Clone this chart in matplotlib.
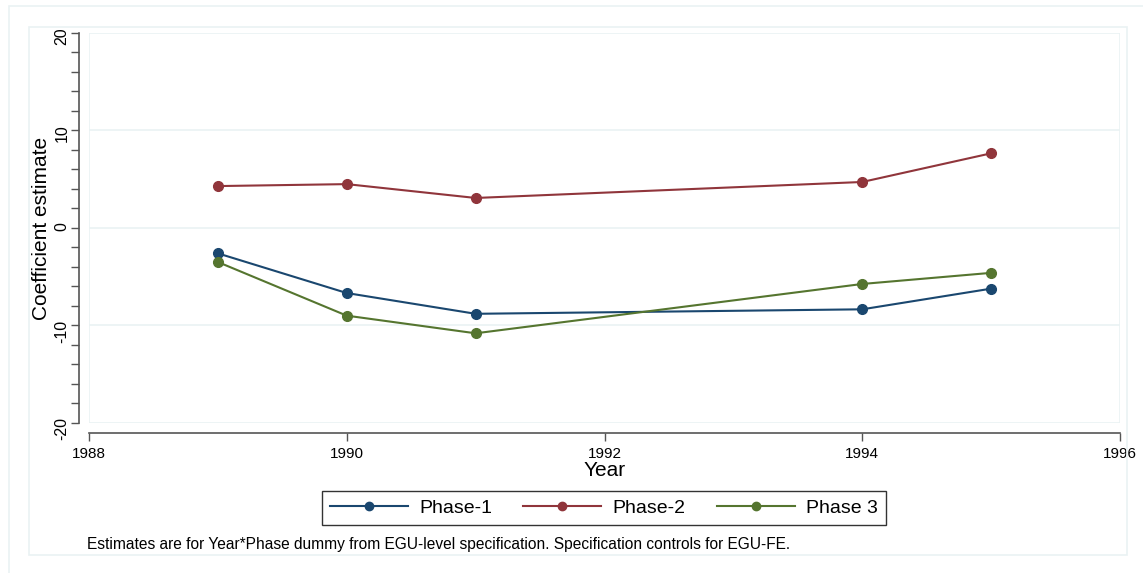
import matplotlib.pyplot as plt
from matplotlib.patches import Rectangle

years = [1989, 1990, 1991, 1994, 1995]
phase1 = [-2.6, -6.67, -8.8, -8.34, -6.22]
phase2 = [4.3, 4.5, 3.08, 4.72, 7.66]
phase3 = [-3.49, -8.99, -10.8, -5.74, -4.6]

series_names = ['Phase-1', 'Phase-2', 'Phase 3']
series_colors = ['#1a476f', '#90353b', '#55752f']
x_ticks = [1988, 1990, 1992, 1994, 1996]
y_ticks = [-20, -10, 0, 10, 20]
note = 'Estimates are for Year*Phase dummy from EGU-level specification. Specification controls for EGU-FE.'

plt.rcParams['font.family'] = ['Liberation Sans', 'DejaVu Sans']
plt.rcParams['axes.unicode_minus'] = False

W, H = 1143, 573
fig = plt.figure(figsize=(W / 100, H / 100), dpi=100)


def px_rect(x0, y0, x1, y1, color):
    # rectangle given in pixel coords from the top-left corner
    r = Rectangle((x0 / W, 1 - y1 / H), (x1 - x0) / W, (y1 - y0) / H,
                  transform=fig.transFigure, fill=False, edgecolor=color, lw=1.2)
    fig.add_artist(r)


frame_col = '#eaf2f3'
px_rect(9, 6, 1160, 600, frame_col)
px_rect(29, 27, 1127, 555, frame_col)

ax = fig.add_axes([89 / W, 1 - 423 / H, (1120 - 89) / W, (423 - 33) / H])

for vals, name, col in zip([phase1, phase2, phase3], series_names, series_colors):
    ax.plot(years, vals, color=col, lw=1.5, marker='o', markersize=7, label=name)

ax.set_xlim(1988, 1996)
ax.set_ylim(-20, 20)
ax.set_xticks(x_ticks)
ax.set_yticks(y_ticks)
ax.set_yticks(range(-20, 21, 2), minor=True)
ax.tick_params(axis='y', labelsize=11.5, length=6, width=1, color='#555555', pad=1,
               labelrotation=90)
ax.tick_params(axis='y', which='minor', length=6, width=1, color='#555555')
ax.tick_params(axis='x', labelsize=11, length=6, width=1, color='#555555', pad=4)
for lbl in ax.get_yticklabels():
    lbl.set_va('center')

for s in ['top', 'right']:
    ax.spines[s].set_visible(False)
for s in ['left', 'bottom']:
    ax.spines[s].set_position(('outward', 7))
    ax.spines[s].set_color('#555555')
    ax.spines[s].set_linewidth(1.2)

for v in [-10, 0, 10]:
    ax.axhline(v, color=frame_col, lw=1.2, zorder=0)
ax.add_patch(Rectangle((0, 0), 1, 1, transform=ax.transAxes, fill=False,
                       edgecolor=frame_col, lw=1.2, zorder=0))

ax.set_ylabel('Coefficient estimate', fontsize=15)
ax.yaxis.set_label_coords((51 - 89) / 1031, 0.5)
ax.set_xlabel('Year', fontsize=15, labelpad=0)

leg = fig.legend(loc='center', bbox_to_anchor=(604 / W, 1 - 508 / H), ncol=3,
                 frameon=True, fancybox=False, fontsize=14, handlelength=4,
                 columnspacing=1.6, borderpad=0.4, handletextpad=0.6)
leg.get_frame().set_edgecolor('black')
leg.get_frame().set_linewidth(1)
for h in leg.legend_handles:
    h.set_markersize(6)

fig.text(87 / W, 1 - 545 / H, note, fontsize=11.2, va='center', ha='left')

fig.savefig('out.png', dpi=100)
